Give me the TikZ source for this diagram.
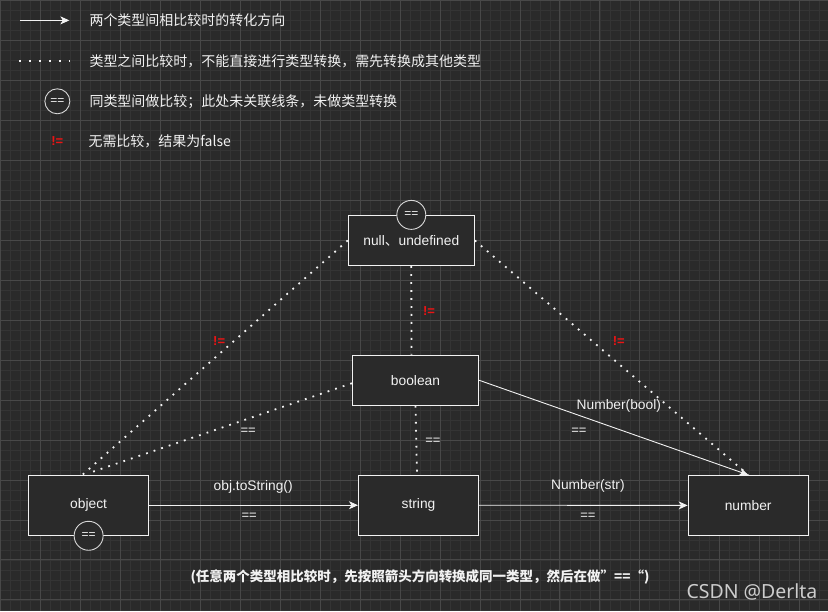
\documentclass[tikz,border=0pt]{standalone}
\usepackage{fontspec}
\setmainfont{Liberation Sans}
\newfontfamily\cjk{Noto Sans CJK SC}
\newfontfamily\wm{Noto Sans}
\usetikzlibrary{arrows.meta,calc}
\definecolor{bg}{RGB}{42,42,42}
\definecolor{gminor}{RGB}{52,52,52}
\definecolor{gmajor}{RGB}{72,72,72}
\definecolor{fg}{RGB}{242,242,242}
\definecolor{redx}{RGB}{235,20,20}
\definecolor{circ}{RGB}{215,215,215}
\definecolor{wmc}{RGB}{205,205,205}
\begin{document}
\begin{tikzpicture}[x=1pt,y=-1pt,
  box/.style={draw=fg, line width=1.2pt, fill=bg, text=fg, inner sep=0pt,
    font=\fontsize{13.8}{16}\selectfont},
  eqc/.style={circle, draw=circ, line width=0.9pt, fill=bg, minimum size=29pt,
    inner sep=0pt, text=fg, font=\fontsize{12}{14}\selectfont},
  arr/.style={draw=fg, line width=0.9pt, -{Stealth[length=9pt,width=8pt,inset=2.5pt]}},
  dotl/.style={draw=fg, line width=1.8pt, dash pattern=on 1.8pt off 6.2pt},
  lbl/.style={text=fg, inner sep=0pt, font=\fontsize{13.8}{16}\selectfont},
  eq/.style={text=fg, inner sep=0pt, font=\fontsize{13}{15}\selectfont},
  ne/.style={text=redx, inner sep=0pt, font=\bfseries\fontsize{13}{15}\selectfont},
  leg/.style={text=fg, inner sep=0pt, anchor=west, font=\cjk\fontsize{14}{16}\selectfont},
]
% background and grid
\fill[bg] (0,0) rectangle (828,611);
\foreach \i in {0,10,...,820} \draw[gminor, line width=0.6pt] (\i,0) -- (\i,611);
\foreach \j in {0,10,...,610} \draw[gminor, line width=0.6pt] (0,\j) -- (828,\j);
\foreach \i in {0,40,...,820} \draw[gmajor, line width=0.8pt] (\i,0) -- (\i,611);
\foreach \j in {0,40,...,600} \draw[gmajor, line width=0.8pt] (0,\j) -- (828,\j);
\useasboundingbox (0,0) rectangle (828,611);

% legend
\coordinate (la1) at (20,20);
\coordinate (la2) at (69,20);
\draw[arr] (la1) -- (la2);
\node[leg] (lt1) at (89,20) {两个类型间相比较时的转化方向};
\coordinate (ld1) at (19.1,61);
\coordinate (ld2) at (70,61);
\draw[draw=fg, line width=1.8pt, dash pattern=on 1.8pt off 8.2pt] (ld1) -- (ld2);
\node[leg] (lt2) at (89,61) {类型之间比较时，不能直接进行类型转换，需先转换成其他类型};
\node[eqc, minimum size=25pt] (lc) at (57,101) {==};
\node[leg] (lt3) at (89,101) {同类型间做比较；此处未关联线条，未做类型转换};
\node[ne] (lne) at (57,141) {!=};
\node[leg] (lt4) at (88,141) {无需比较，结果为false};

% nodes
\node[box, minimum width=126pt, minimum height=50pt] (nul) at (411.3,240.3) {null{\cjk 、}undefined};
\node[box, minimum width=126pt, minimum height=50pt] (boo) at (415.5,380.2) {boolean};
\node[box, minimum width=120pt, minimum height=60pt] (obj) at (88.3,505.3) {object};
\node[box, minimum width=120pt, minimum height=60pt] (str) at (418.5,505.3) {string};
\node[box, minimum width=120pt, minimum height=60pt] (num) at (748.5,505.5) {number};

% connector end points
\coordinate (objtop) at ($(obj.north)+(-6,0)$);
\coordinate (objtop2) at ($(obj.north)+(0,-1.5)$);
\coordinate (boow) at ($(boo.west)+(0,3)$);
\coordinate (boon) at ($(boo.north)+(-4,0)$);
\coordinate (strn) at ($(str.north)+(-1.5,0)$);

% dotted connectors
\draw[dotl] (nul.west) -- (objtop);
\draw[dotl] (nul.east) -- (num.north);
\draw[dotl] (boow) -- (objtop2);
\draw[dotl] (nul.south) -- (boon);
\draw[dotl] (boo.south) -- (strn);

% solid arrows
\draw[arr] (boo.east) -- (num.north);
\draw[arr] (obj.east) -- (str.west);
\draw[arr] (str.east) -- (num.west);

% circles
\node[eqc] (nulc) at (nul.north) {==};
\node[eqc] (objc) at (obj.south) {==};

% labels
\node[lbl] (l1) at (253,487) {obj.toString()};
\node[eq] (l2) at (249,516) {==};
\node[lbl] (l3) at (588,486) {Number(str)};
\node[eq] (l4) at (588,516) {==};
\node[lbl] (l5) at (619,406) {Number(bool)};
\node[eq] (l6) at (579,431) {==};
\node[eq] (l7) at (248,431) {==};
\node[eq] (l8) at (433,441) {==};
\node[ne] (n1) at (219,341) {!=};
\node[ne] (n2) at (429,311) {!=};
\node[ne] (n3) at (619,341) {!=};

% bottom note
\node[text=fg, inner sep=0pt, font=\cjk\bfseries\fontsize{13.5}{15}\selectfont] (note) at (420,577) {(任意两个类型相比较时，先按照箭头方向转换成同一类型，然后在做”==“)};
\node[text=wmc, inner sep=0pt, anchor=east, font=\wm\fontsize{19.5}{22}\selectfont] (wmk) at (818,592) {CSDN @Derlta};
\end{tikzpicture}
\end{document}
